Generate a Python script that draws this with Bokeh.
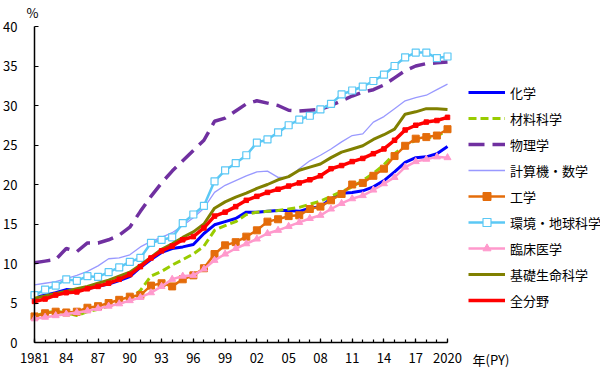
from bokeh.plotting import figure
from bokeh.models import FixedTicker, Legend, LegendItem, Label, Range1d
from bokeh.embed import file_html
from bokeh.resources import INLINE

years = list(range(1981, 2021))

chem = [5.7, 6.0, 6.3, 6.7, 6.6, 6.8, 7.1, 7.4, 7.85, 8.35,
        9.5, 10.5, 11.4, 11.9, 12.1, 12.4, 13.8, 14.9, 15.3, 15.7,
        16.5, 16.5, 16.6, 16.7, 16.7, 16.6, 17.0, 17.2, 18.2, 18.9,
        19.0, 19.2, 19.7, 20.5, 21.6, 22.8, 23.4, 23.5, 23.9, 24.8]
materials = [3.3, 3.8, 3.9, 3.8, 3.4, 3.9, 4.2, 4.6, 5.0, 5.4,
             6.6, 8.4, 9.0, 9.8, 10.5, 11.2, 12.2, 14.2, 14.8, 15.3,
             16.2, 16.5, 16.6, 16.7, 16.9, 17.1, 17.5, 17.9, 18.5, 19.1,
             19.7, 20.5, 21.4, 22.5, 23.9, 24.9, 25.6, 25.9, 26.1, 26.9]
physics = [10.1, 10.3, 10.5, 11.9, 11.5, 12.6, 12.6, 13.0, 13.6, 14.6,
           16.6, 18.5, 20.2, 21.7, 23.0, 24.3, 25.6, 28.0, 28.4, 29.3,
           30.2, 30.6, 30.3, 30.0, 29.4, 29.3, 29.4, 29.5, 30.0, 30.6,
           31.2, 31.7, 32.0, 32.6, 33.5, 34.4, 35.0, 35.3, 35.4, 35.5]
computer = [7.3, 7.5, 7.7, 8.1, 8.5, 9.0, 9.7, 10.6, 10.7, 11.1,
            12.1, 12.8, 13.3, 13.9, 14.8, 15.8, 17.0, 19.0, 19.9, 20.5,
            21.1, 21.6, 21.7, 20.9, 20.9, 22.0, 23.0, 23.7, 24.5, 25.4,
            26.2, 26.4, 27.9, 28.6, 29.6, 30.6, 31.0, 31.3, 32.0, 32.7]
engineering = [3.3, 3.7, 3.9, 3.8, 3.9, 4.4, 4.6, 5.0, 5.4, 5.8,
               6.0, 7.2, 7.5, 7.1, 8.0, 8.5, 9.4, 11.2, 12.3, 12.7,
               13.4, 14.2, 15.3, 15.6, 16.0, 16.1, 16.9, 17.2, 18.0, 18.8,
               20.0, 20.2, 21.1, 22.0, 23.6, 24.9, 25.8, 26.0, 26.2, 27.0]
environment = [6.0, 6.7, 7.2, 8.0, 7.8, 8.4, 8.3, 8.9, 9.5, 10.2,
               10.7, 12.6, 13.0, 13.3, 15.1, 16.2, 17.3, 20.4, 21.8, 22.7,
               23.7, 25.3, 25.7, 26.6, 27.5, 28.2, 28.7, 29.5, 30.2, 31.4,
               31.9, 32.4, 33.1, 33.9, 35.0, 36.1, 36.7, 36.7, 36.0, 36.2]
clinical = [3.0, 3.2, 3.4, 3.6, 3.8, 4.0, 4.3, 4.6, 4.9, 5.3,
            5.7, 6.3, 7.1, 8.0, 8.4, 8.5, 9.3, 10.4, 11.2, 11.9,
            12.5, 13.1, 13.8, 14.2, 14.7, 15.2, 15.7, 16.1, 16.9, 17.6,
            18.2, 18.6, 19.3, 20.1, 20.9, 22.2, 22.9, 23.2, 23.5, 23.4]
life = [5.6, 5.9, 6.2, 6.5, 6.8, 7.1, 7.5, 7.9, 8.4, 8.9,
        9.8, 10.8, 11.8, 12.5, 13.3, 14.0, 15.0, 17.0, 17.8, 18.4,
        18.9, 19.5, 20.0, 20.6, 21.0, 21.8, 22.2, 22.6, 23.4, 24.1,
        24.5, 24.9, 25.7, 26.3, 27.0, 28.9, 29.2, 29.6, 29.6, 29.5]
all_fields = [5.2, 5.5, 6.0, 6.3, 6.4, 6.8, 7.1, 7.5, 8.0, 8.6,
              9.6, 10.7, 11.6, 12.2, 13.0, 13.4, 14.5, 16.0, 16.5, 17.2,
              18.0, 18.5, 19.0, 19.4, 19.8, 20.2, 20.6, 21.1, 22.0, 22.4,
              22.9, 23.3, 23.9, 24.5, 25.6, 26.9, 27.5, 27.9, 28.1, 28.5]

names = ["化学", "材料科学", "物理学", "計算機・数学", "工学",
         "環境・地球科学", "臨床医学", "基礎生命科学", "全分野"]
x_ticks = [1981, 1984, 1987, 1990, 1993, 1996, 1999, 2002, 2005, 2008,
           2011, 2014, 2017, 2020]
x_tick_labels = ["1981", "84", "87", "90", "93", "96", "99", "02", "05", "08",
                 "11", "14", "17", "2020"]
y_ticks = [0, 5, 10, 15, 20, 25, 30, 35, 40]

FONT = "Noto Sans CJK JP"

W, H = 600, 374
# frame covers the whole canvas; axes are drawn at fixed locations
px_per_year = 413 / 39
px_per_unit = 316 / 40
x_start = 1981 - 34 / px_per_year
x_end = 1981 + (W - 34) / px_per_year
y_end = 40 + 26 / px_per_unit
y_start = -(H - 342) / px_per_unit

p = figure(width=W, height=H, output_backend="svg", toolbar_location=None,
           x_range=Range1d(x_start, x_end), y_range=Range1d(y_start, y_end),
           min_border_left=0, min_border_right=0, min_border_top=0,
           min_border_bottom=0)
p.outline_line_color = None
p.grid.visible = False
p.background_fill_color = "white"
p.border_fill_color = "white"

for ax in (p.xaxis[0], p.yaxis[0]):
    ax.axis_line_width = 1.5
    ax.axis_line_color = "black"
    ax.major_tick_in = 4
    ax.major_tick_out = 0
    ax.minor_tick_in = 3
    ax.minor_tick_out = 0
    ax.major_tick_line_width = 1.2
    ax.minor_tick_line_width = 1.2
    ax.major_label_text_font = FONT
    ax.major_label_text_font_size = "13px"
    ax.major_label_text_color = "black"

p.xaxis.fixed_location = 0
p.xaxis.bounds = (1981, 2020)
p.xaxis.ticker = FixedTicker(ticks=x_ticks, minor_ticks=years)
p.xaxis.major_label_overrides = {t: l for t, l in zip(x_ticks, x_tick_labels)}
p.xaxis.major_label_standoff = 10
p.yaxis.fixed_location = 1981
p.yaxis.bounds = (0, 40)
p.yaxis.ticker = FixedTicker(ticks=y_ticks, minor_ticks=[])
p.yaxis.major_label_standoff = 17

items = []
r = p.line(years, chem, line_color="#0000FF", line_width=3)
items.append(LegendItem(label=names[0], renderers=[r]))
r = p.line(years, materials, line_color="#99CC00", line_width=3, line_dash="8 4")
items.append(LegendItem(label=names[1], renderers=[r]))
r = p.line(years, physics, line_color="#7030A0", line_width=3.5, line_dash="16 8")
items.append(LegendItem(label=names[2], renderers=[r]))
r = p.line(years, computer, line_color="#9999FF", line_width=1.3)
items.append(LegendItem(label=names[3], renderers=[r]))
r1 = p.line(years, engineering, line_color="#E46C0A", line_width=2.5)
r2 = p.scatter(years, engineering, marker="square", size=7, fill_color="#E46C0A",
               line_color="#E46C0A")
items.append(LegendItem(label=names[4], renderers=[r1, r2]))
r1 = p.line(years, environment, line_color="#5BC8F5", line_width=2.5)
r2 = p.scatter(years, environment, marker="square", size=7, fill_color="white",
               line_color="#5BC8F5", line_width=1.2)
items.append(LegendItem(label=names[5], renderers=[r1, r2]))
r1 = p.line(years, clinical, line_color="#FF99CC", line_width=2.5)
r2 = p.scatter(years, clinical, marker="triangle", size=7, fill_color="#FF99CC",
               line_color="#FF99CC")
items.append(LegendItem(label=names[6], renderers=[r1, r2]))
r = p.line(years, life, line_color="#808000", line_width=3)
items.append(LegendItem(label=names[7], renderers=[r]))
r = p.line(years, all_fields, line_color="#FF0000", line_width=3.5)
p.scatter(years, all_fields, marker="square", size=4.5, fill_color="#FF0000",
          line_color="#FF0000")
items.append(LegendItem(label=names[8], renderers=[r]))

# legend location: (left, bottom) in screen pixels from the frame's bottom-left
legend = Legend(items=items, location=(468, H - 310), orientation="vertical",
                glyph_width=37, glyph_height=20, label_height=20,
                label_standoff=5, spacing=6, padding=0, margin=0,
                label_text_font=FONT, label_text_font_size="13px",
                label_text_color="black",
                border_line_alpha=0, background_fill_alpha=0)
p.add_layout(legend)

p.add_layout(Label(x=1981, y=40, x_offset=-2, y_offset=5, text="%",
                   text_align="center", text_baseline="bottom",
                   text_font=FONT, text_font_size="13px", text_color="black"))
p.add_layout(Label(x=2020, y=0, x_offset=25, y_offset=-17, text="年(PY)",
                   text_align="left", text_baseline="middle",
                   text_font=FONT, text_font_size="13px", text_color="black"))

open("out.html", "w").write(file_html(p, INLINE))
